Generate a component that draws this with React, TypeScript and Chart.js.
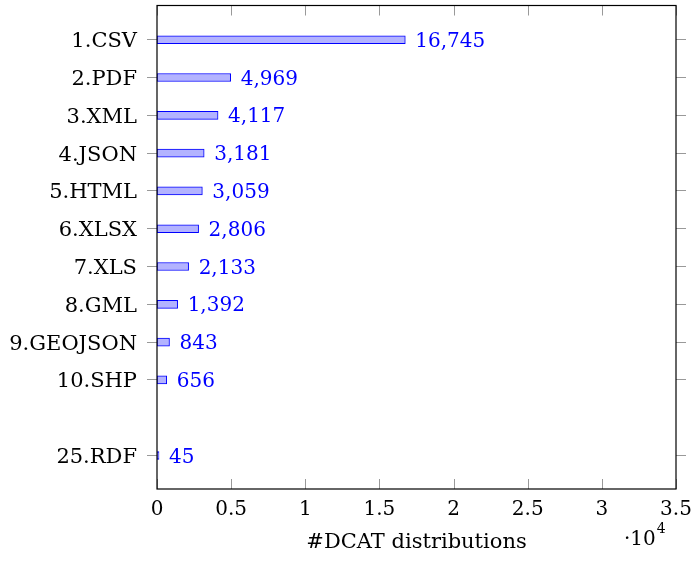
import { useEffect, useRef } from 'react';
import { Chart, registerables } from 'chart.js';

Chart.register(...registerables);

const categories = ['1.CSV', '2.PDF', '3.XML', '4.JSON', '5.HTML', '6.XLSX', '7.XLS', '8.GML', '9.GEOJSON', '10.SHP', '25.RDF'];
const positions = [1, 2, 3, 4, 5, 6, 7, 8, 9, 10, 12];
const counts = [16745, 4969, 4117, 3181, 3059, 2806, 2133, 1392, 843, 656, 45];
const xTickValues = [0, 5000, 10000, 15000, 20000, 25000, 30000, 35000];
const xTickLabels = ['0', '0.5', '1', '1.5', '2', '2.5', '3', '3.5'];
const axisTitle = '#DCAT distributions';
const scaleNote = '·10';
const scaleExp = '4';

const FONT = '"DejaVu Serif", "Liberation Serif", serif';
const FS = 20;
const FS_LABEL = 21;

const framePlugin = {
  id: 'frame',
  afterDatasetsDraw(chart: any) {
    const { ctx, chartArea, scales } = chart;
    const { left, right, top, bottom } = chartArea;
    ctx.save();
    // inner x ticks (top and bottom)
    ctx.strokeStyle = '#999';
    ctx.lineWidth = 1;
    xTickValues.forEach((v) => {
      const px = Math.round(scales.x.getPixelForValue(v)) + 0.5;
      ctx.beginPath();
      ctx.moveTo(px, bottom);
      ctx.lineTo(px, bottom - 10);
      ctx.moveTo(px, top);
      ctx.lineTo(px, top + 10);
      ctx.stroke();
    });
    // frame
    ctx.strokeStyle = '#000';
    ctx.lineWidth = 1.2;
    ctx.strokeRect(left, top, right - left, bottom - top);

    ctx.textBaseline = 'alphabetic';

    // y tick labels
    ctx.font = `${FS_LABEL}px ${FONT}`;
    ctx.fillStyle = '#000';
    ctx.textAlign = 'right';
    positions.forEach((p, i) => {
      const py = scales.y.getPixelForValue(p);
      ctx.fillText(categories[i], left - 20, py + 7.5);
    });

    // axis title
    ctx.textAlign = 'center';
    ctx.fillText(axisTitle, (left + right) / 2, 548);

    // x tick labels
    ctx.font = `${FS}px ${FONT}`;
    xTickValues.forEach((v, i) => {
      ctx.fillText(xTickLabels[i], scales.x.getPixelForValue(v), 515);
    });

    // scale note
    ctx.textAlign = 'left';
    ctx.fillText(scaleNote, 624, 545);
    const w = ctx.measureText(scaleNote).width;
    ctx.font = `${Math.round(FS * 0.7)}px ${FONT}`;
    ctx.fillText(scaleExp, 624 + w + 1, 533);

    // value labels
    const meta = chart.getDatasetMeta(0);
    ctx.fillStyle = '#0000ff';
    ctx.font = `${FS}px ${FONT}`;
    ctx.textAlign = 'left';
    meta.data.forEach((el: any, i: number) => {
      ctx.fillText(counts[i].toLocaleString('en-US'), el.x + 10, el.y + 7);
    });
    ctx.restore();
  },
};

export default function App() {
  const ref = useRef<HTMLCanvasElement | null>(null);
  useEffect(() => {
    if (!ref.current) return;
    const yGrid = { drawOnChartArea: false, drawTicks: true, tickLength: 10, color: '#999', offset: false };
    const chart = new Chart(ref.current, {
      type: 'bar',
      data: {
        datasets: [
          {
            data: counts.map((c, i) => ({ x: c, y: positions[i] })),
            backgroundColor: '#b3b3ff',
            borderColor: '#0000ff',
            borderWidth: 1,
            borderSkipped: false,
            barThickness: 8,
            minBarLength: 2,
          } as any,
        ],
      },
      options: {
        indexAxis: 'y',
        animation: false,
        responsive: false,
        maintainAspectRatio: false,
        layout: { padding: { top: 5.5, left: 0, right: 0, bottom: 0 } },
        plugins: { legend: { display: false }, tooltip: { enabled: false } },
        scales: {
          x: {
            type: 'linear',
            position: 'bottom',
            min: 0,
            max: 35000,
            offset: false,
            afterBuildTicks: (s: any) => {
              s.ticks = xTickValues.map((v) => ({ value: v }));
            },
            afterFit: (s: any) => {
              s.height = 73;
            },
            grid: { display: false, drawTicks: false },
            border: { display: false },
            ticks: { display: false },
          },
          y: {
            type: 'linear',
            position: 'left',
            reverse: true,
            offset: false,
            min: 0.095,
            max: 12.885,
            afterBuildTicks: (s: any) => {
              s.ticks = positions.map((v) => ({ value: v }));
            },
            afterFit: (s: any) => {
              s.width = 157;
            },
            grid: yGrid,
            border: { display: false },
            ticks: { display: false },
          },
          y2: {
            type: 'linear',
            position: 'right',
            reverse: true,
            offset: false,
            min: 0.095,
            max: 12.885,
            afterBuildTicks: (s: any) => {
              s.ticks = positions.map((v) => ({ value: v }));
            },
            afterFit: (s: any) => {
              s.width = 15;
            },
            grid: yGrid,
            border: { display: false },
            ticks: { display: false },
          },
        },
      } as any,
      plugins: [framePlugin],
    });
    return () => chart.destroy();
  }, []);
  return (
    <div style={{ position: 'fixed', left: 0, top: 0, width: 691, height: 562, background: '#fff' }}>
      <canvas ref={ref} width={691} height={562} style={{ width: 691, height: 562 }} />
    </div>
  );
}
